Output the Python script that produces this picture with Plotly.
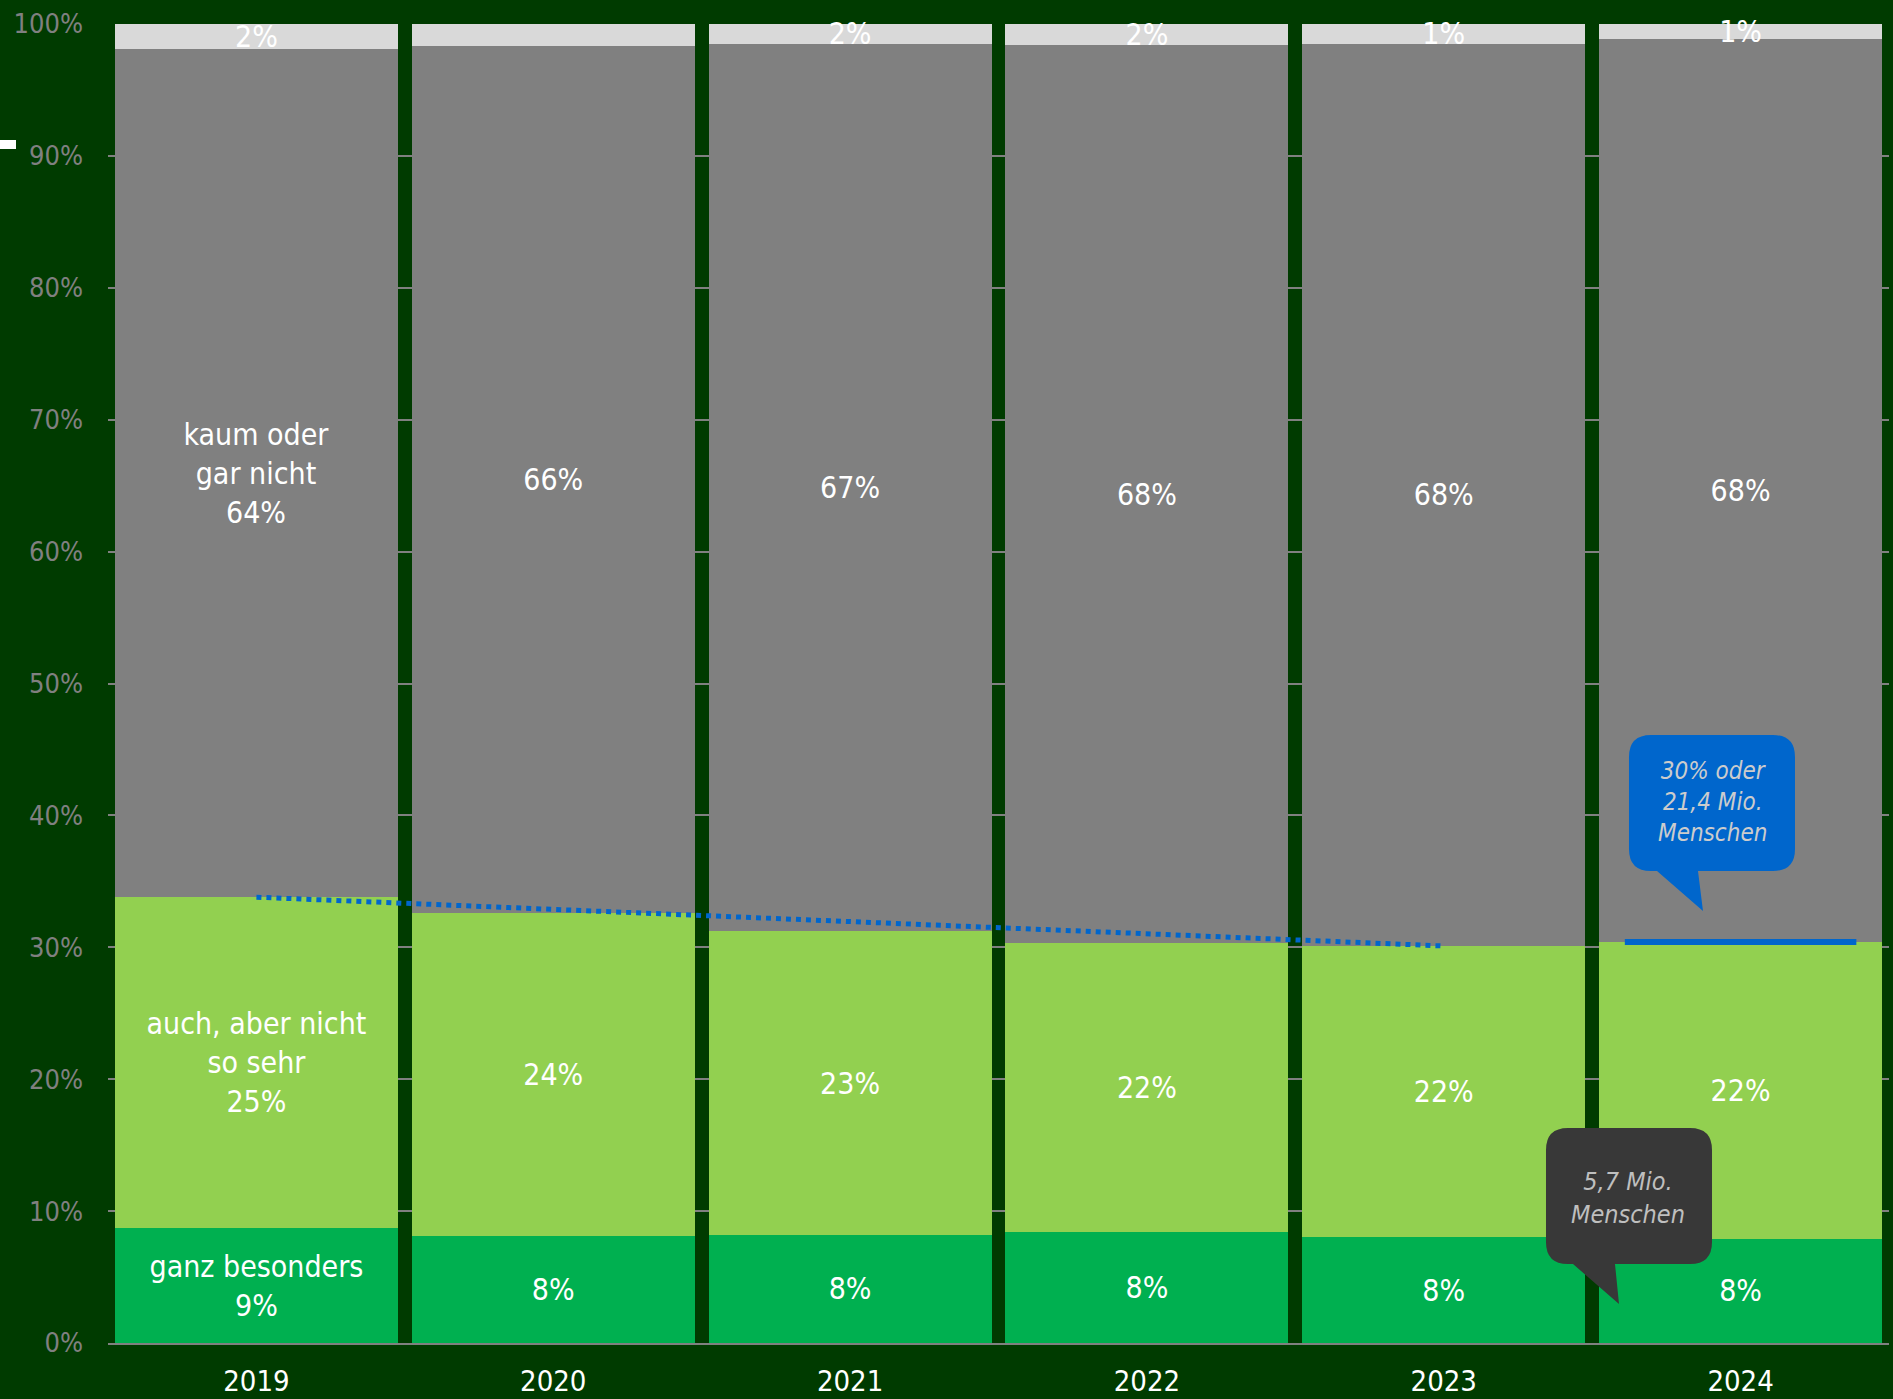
import plotly.graph_objects as go

# Werte (Anteil in %), von unten nach oben gestapelt
YEARS = [2019, 2020, 2021, 2022, 2023, 2024]
GANZ_BESONDERS = [8.7, 8.1, 8.2, 8.4, 8.0, 7.9]
AUCH_NICHT_SO_SEHR = [25.1, 24.5, 23.0, 21.9, 22.1, 22.5]
KAUM_GAR_NICHT = [64.3, 65.7, 67.3, 68.1, 68.4, 68.5]
KEINE_ANGABE = [1.9, 1.7, 1.5, 1.6, 1.5, 1.1]

LABELS_GANZ = ["ganz besonders<br>9%", "8%", "8%", "8%", "8%", "8%"]
LABELS_AUCH = ["auch, aber nicht<br>so sehr<br>25%", "24%", "23%", "22%", "22%", "22%"]
LABELS_KAUM = ["kaum oder<br>gar nicht<br>64%", "66%", "67%", "68%", "68%", "68%"]
LABELS_TOP = ["2%", "2%", "2%", "2%", "1%", "1%"]

Y_TICKS = list(range(0, 101, 10))

BG = "#003b00"
FONT = "DejaVu Sans Condensed, DejaVu Sans, sans-serif"

# plot area in pixels (used for callouts)
PLOT_L, PLOT_R, PLOT_T, PLOT_B = 108, 1889, 24, 1343
W, H = 1893, 1399


def paper(px, py):
    return (px - PLOT_L) / (PLOT_R - PLOT_L), (PLOT_B - py) / (PLOT_B - PLOT_T)


def bubble_path(x0, y0, x1, y1, r, tb0, tb1, tip):
    def p(x, y):
        a, b = paper(x, y)
        return f"{a:.5f},{b:.5f}"
    s = f"M {p(x0 + r, y0)} L {p(x1 - r, y0)} Q {p(x1, y0)} {p(x1, y0 + r)} "
    s += f"L {p(x1, y1 - r)} Q {p(x1, y1)} {p(x1 - r, y1)} "
    s += f"L {p(tb1, y1)} L {p(tip[0], tip[1])} L {p(tb0, y1)} "
    s += f"L {p(x0 + r, y1)} Q {p(x0, y1)} {p(x0, y1 - r)} "
    s += f"L {p(x0, y0 + r)} Q {p(x0, y0)} {p(x0 + r, y0)} Z"
    return s


fig = go.Figure()

series = [
    (GANZ_BESONDERS, LABELS_GANZ, "#00b050", "ganz besonders"),
    (AUCH_NICHT_SO_SEHR, LABELS_AUCH, "#92d050", "auch, aber nicht so sehr"),
    (KAUM_GAR_NICHT, LABELS_KAUM, "#808080", "kaum oder gar nicht"),
    (KEINE_ANGABE, LABELS_TOP, "#d9d9d9", "keine Angabe"),
]
for vals, labels, color, name in series:
    fig.add_trace(go.Bar(
        x=YEARS, y=vals, name=name,
        marker=dict(color=color, line=dict(width=0)),
        text=labels, textposition="inside", insidetextanchor="middle",
        textangle=0, constraintext="none", cliponaxis=False,
        textfont=dict(color="white", size=30, family=FONT),
    ))

# Trendlinie (Summe der beiden grünen Segmente) 2019 -> 2023
cum = [g + a for g, a in zip(GANZ_BESONDERS, AUCH_NICHT_SO_SEHR)]
fig.add_trace(go.Scatter(
    x=[YEARS[0], YEARS[4]], y=[cum[0], cum[4]], mode="lines",
    line=dict(color="#0066cc", width=5, dash="dot"), showlegend=False,
))
# Markierung 2024
fig.add_trace(go.Scatter(
    x=[YEARS[5] - 0.39, YEARS[5] + 0.39], y=[cum[5], cum[5]], mode="lines",
    line=dict(color="#0066cc", width=6), showlegend=False,
))

shapes = [
    dict(type="path", xref="paper", yref="paper", layer="above",
         path=bubble_path(1629, 735, 1795, 871, 22, 1657, 1698, (1703, 911)),
         fillcolor="#0066cc", line=dict(width=0)),
    dict(type="path", xref="paper", yref="paper", layer="above",
         path=bubble_path(1546, 1128, 1712, 1264, 22, 1573, 1615, (1619, 1304)),
         fillcolor="#383838", line=dict(width=0)),
]
x0, y0 = paper(0, 140)
x1, y1 = paper(16, 149)
shapes.append(dict(type="rect", xref="paper", yref="paper", x0=x0, x1=x1, y0=y1, y1=y0,
                   fillcolor="white", line=dict(width=0)))

ax, ay = paper(1712, 802)
bx, by = paper(1628, 1198)
annotations = [
    dict(xref="paper", yref="paper", x=ax, y=ay, xanchor="center", yanchor="middle",
         showarrow=False, text="<i>30% oder<br>21,4 Mio.<br>Menschen</i>",
         font=dict(size=24, color="#cccccc", family=FONT), align="center"),
    dict(xref="paper", yref="paper", x=bx, y=by, xanchor="center", yanchor="middle",
         showarrow=False, text="<i>5,7 Mio.<br>Menschen</i>",
         font=dict(size=25, color="#bfbfbf", family=FONT), align="center"),
]

fig.update_layout(
    width=W, height=H,
    margin=dict(l=PLOT_L, r=W - PLOT_R, t=PLOT_T, b=H - PLOT_B),
    paper_bgcolor=BG, plot_bgcolor=BG,
    barmode="stack", bargap=0.047,
    showlegend=False,
    shapes=shapes, annotations=annotations,
    xaxis=dict(
        range=[2018.5, 2024.5], tickvals=YEARS, ticktext=[str(y) for y in YEARS],
        showgrid=False, zeroline=False, showline=True, linecolor="#808080", linewidth=2,
        tickfont=dict(color="white", size=29, family=FONT), ticklabelstandoff=11,
        automargin=False,
    ),
    yaxis=dict(
        range=[0, 100], tickvals=Y_TICKS, ticktext=[f"{v}%" for v in Y_TICKS],
        showgrid=True, gridcolor="#808080", gridwidth=1.5, zeroline=False,
        tickfont=dict(color="#808080", size=27, family=FONT), ticklabelstandoff=24,
        automargin=False,
    ),
)

fig.write_html("out.html", config={"displayModeBar": False},
               post_script="document.body.style.margin='0';")
